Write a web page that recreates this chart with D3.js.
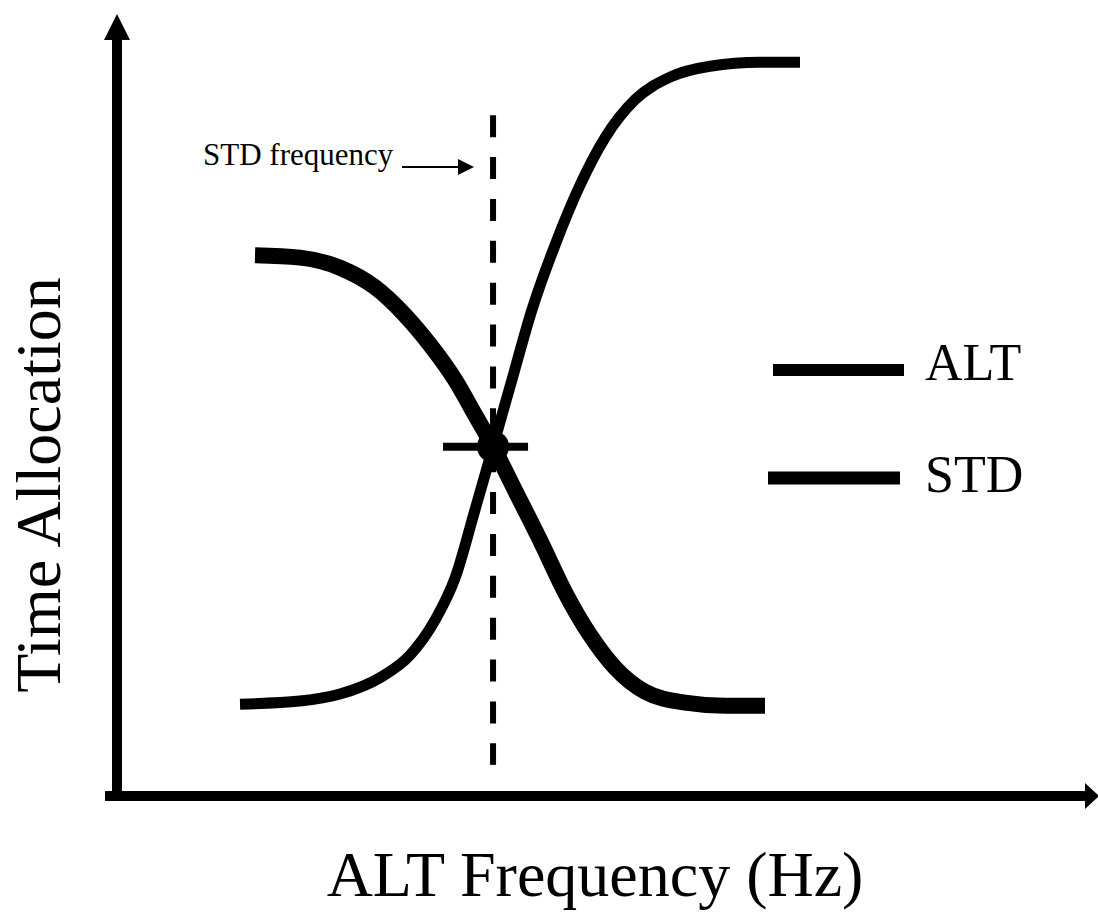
<!DOCTYPE html>
<html>
<head>
<meta charset="utf-8">
<script src="https://cdn.jsdelivr.net/npm/d3@7"></script>
<style>
  body { margin: 0; background: #fff; }
  svg { display: block; font-family: "Liberation Serif", "Times New Roman", serif; }
</style>
</head>
<body>
<div id="chart"></div>
<script>
// Sketch data (x: frequency units, y: share of time)
const altX = [1.245, 1.857, 2.265, 2.673, 2.980, 3.235, 3.439, 3.643, 3.827, 4.020, 4.224, 4.459, 4.714, 4.969, 5.276, 5.633, 6.041, 6.551, 6.959];
const altY = [0.118, 0.122, 0.131, 0.152, 0.181, 0.226, 0.280, 0.368, 0.449, 0.535, 0.625, 0.708, 0.785, 0.846, 0.895, 0.924, 0.938, 0.943, 0.943];
const stdX = [1.398, 1.857, 2.265, 2.622, 2.929, 3.184, 3.439, 3.643, 3.827, 4.051, 4.306, 4.561, 4.816, 5.071, 5.378, 5.786, 6.194, 6.602];
const stdY = [0.695, 0.692, 0.679, 0.654, 0.618, 0.580, 0.535, 0.490, 0.449, 0.393, 0.329, 0.262, 0.207, 0.165, 0.134, 0.120, 0.116, 0.116];
const stdFrequency = 3.827;
const crossY = 0.449;
const legendLabels = ["ALT", "STD"];

const width = 1098, height = 912;

const svg = d3.select("#chart")
    .append("svg")
    .attr("width", width)
    .attr("height", height);

const x = d3.scaleLinear().domain([0, 10]).range([118, 1098]);
const y = d3.scaleLinear().domain([0, 1]).range([796, 18]);

const line = d3.line()
    .x(d => x(d[0]))
    .y(d => y(d[1]))
    .curve(d3.curveMonotoneX);

// axes: plain thick shafts with arrow heads
svg.append("line")
    .attr("x1", 117).attr("x2", 117)
    .attr("y1", 801).attr("y2", 38)
    .attr("stroke", "#000").attr("stroke-width", 10);
svg.append("path")
    .attr("d", "M117,14 L104,40 L130,40 Z")
    .attr("fill", "#000");

svg.append("line")
    .attr("x1", 105).attr("x2", 1086)
    .attr("y1", 796).attr("y2", 796)
    .attr("stroke", "#000").attr("stroke-width", 10);
svg.append("path")
    .attr("d", "M1099,796 L1085,783 L1085,809 Z")
    .attr("fill", "#000");

// dashed STD frequency marker
svg.append("line")
    .attr("x1", x(stdFrequency)).attr("x2", x(stdFrequency))
    .attr("y1", y(0.875)).attr("y2", y(0.04))
    .attr("stroke", "#000")
    .attr("stroke-width", 6)
    .attr("stroke-dasharray", "22,19.87");

// curves
svg.append("path")
    .datum(d3.zip(altX, altY))
    .attr("d", line)
    .attr("fill", "none")
    .attr("stroke", "#000")
    .attr("stroke-width", 11);

svg.append("path")
    .datum(d3.zip(stdX, stdY))
    .attr("d", line)
    .attr("fill", "none")
    .attr("stroke", "#000")
    .attr("stroke-width", 16);

// crossing point
svg.append("circle")
    .attr("cx", x(stdFrequency))
    .attr("cy", y(crossY))
    .attr("r", 16)
    .attr("fill", "#000");
svg.append("line")
    .attr("x1", x(stdFrequency) - 50).attr("x2", x(stdFrequency) + 35)
    .attr("y1", y(crossY)).attr("y2", y(crossY))
    .attr("stroke", "#000").attr("stroke-width", 8);

// annotation
svg.append("text")
    .attr("x", 203).attr("y", 165)
    .style("font-size", "31px")
    .text("STD frequency");
svg.append("line")
    .attr("x1", 402).attr("x2", 460)
    .attr("y1", 167).attr("y2", 167)
    .attr("stroke", "#000").attr("stroke-width", 2);
svg.append("path")
    .attr("d", "M474,167 L458,159 L458,175 Z")
    .attr("fill", "#000");

// legend
const legend = svg.selectAll(".legend")
    .data(legendLabels)
    .enter()
    .append("g")
    .attr("class", "legend")
    .attr("transform", (d, i) => `translate(0, ${i === 0 ? 370 : 478})`);

legend.append("line")
    .attr("x1", (d, i) => i === 0 ? 773 : 768)
    .attr("x2", (d, i) => i === 0 ? 904 : 900)
    .attr("stroke", "#000")
    .attr("stroke-width", (d, i) => i === 0 ? 12 : 13);

legend.append("text")
    .attr("x", 925)
    .attr("y", (d, i) => i === 0 ? 10 : 14)
    .style("font-size", "52px")
    .text(d => d);

// axis titles
svg.append("text")
    .attr("x", 595).attr("y", 896)
    .attr("text-anchor", "middle")
    .style("font-size", "64px")
    .text("ALT Frequency (Hz)");

svg.append("text")
    .attr("transform", "translate(60, 485) rotate(-90)")
    .attr("text-anchor", "middle")
    .style("font-size", "64px")
    .text("Time Allocation");
</script>
</body>
</html>
